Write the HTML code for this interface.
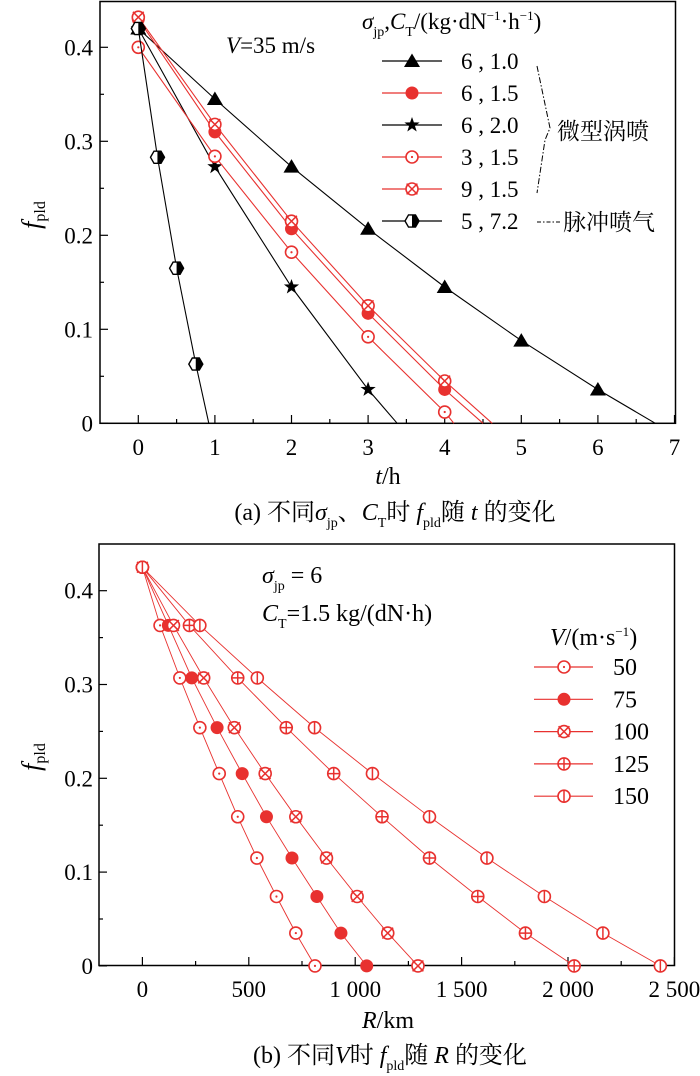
<!DOCTYPE html>
<html><head><meta charset="utf-8"><style>
html,body{margin:0;padding:0;background:#fff;}
svg{display:block;font-family:"Liberation Serif","Noto Serif CJK SC","Noto Sans CJK SC",serif;}
</style></head><body>
<svg id="s" width="700" height="1076" viewBox="0 0 700 1076" xmlns="http://www.w3.org/2000/svg"></svg>
<script>
// ---- chart (a) data ----
const aTicksX=[0,1,2,3,4,5,6,7];
const aTicksY=[0,0.1,0.2,0.3,0.4];
const aLabels=["6 , 1.0","6 , 1.5","6 , 2.0","3 , 1.5","9 , 1.5","5 , 7.2"];
const aT1=[0,1,2,3,4,5,6];       const aF1=[0.42,0.345,0.273,0.207,0.145,0.088,0.036]; const aEnd1=6.75;
const aT2=[0,1,2,3,4];           const aF2=[0.43,0.31,0.207,0.117,0.036]; const aEnd2=4.5;
const aT3=[0,1,2,3];             const aF3=[0.42,0.273,0.145,0.036]; const aEnd3=3.38;
const aT4=[0,1,2,3,4];           const aF4=[0.40,0.284,0.182,0.092,0.012]; const aEnd4=4.12;
const aT5=[0,1,2,3,4];           const aF5=[0.432,0.318,0.215,0.125,0.045]; const aEnd5=4.62;
const aT6=[0,0.25,0.5,0.75];     const aF6=[0.42,0.283,0.165,0.063]; const aEnd6=0.92;
// ---- chart (b) data ----
const bTicksX=[0,500,1000,1500,2000,2500];
const bTickLabelsX=["0","500","1 000","1 500","2 000","2 500"];
const bTicksY=[0,0.1,0.2,0.3,0.4];
const bF=[0.425,0.363,0.307,0.254,0.205,0.159,0.115,0.074,0.035,0];
const bR50=[0,83,176,270,361,448,538,630,721,811];
const bR75=[0,122,232,351,469,583,703,820,933,1054];
const bR100=[0,146,288,432,577,721,865,1009,1153,1295];
const bR125=[0,221,448,676,899,1126,1349,1576,1800,2029];
const bR150=[0,270,540,809,1081,1349,1619,1889,2164,2434];
const bLabels=["50","75","100","125","150"];

const NS="http://www.w3.org/2000/svg";
const S=document.getElementById('s');
function el(tag,attrs,parent){const e=document.createElementNS(NS,tag);for(const k in attrs)e.setAttribute(k,attrs[k]);(parent||S).appendChild(e);return e;}
const RED="#e8312f";
const FS=23;

const axA={x:v=>138.3+v*76.6, y:v=>423.3-v*940};
const axB={x:v=>142.4+v*0.21280, y:v=>965.9-v*938};

function marker(g,type,x,y,col){
  const r=6;
  if(type==='tri'){el('polygon',{points:`${x},${y-7.5} ${x-8},${y+6} ${x+8},${y+6}`,fill:'#000'},g);}
  else if(type==='fill'){el('circle',{cx:x,cy:y,r:r+0.5,fill:col},g);}
  else if(type==='star'){let p=[];for(let i=0;i<10;i++){const a=-Math.PI/2+i*Math.PI/5;const rr=i%2?3.2:8;p.push((x+rr*Math.cos(a)).toFixed(1)+','+(y+rr*Math.sin(a)).toFixed(1));}el('polygon',{points:p.join(' '),fill:'#000'},g);}
  else if(type==='dot'){el('circle',{cx:x,cy:y,r:r,fill:'#fff',stroke:col,'stroke-width':1.6},g);el('circle',{cx:x,cy:y,r:1.1,fill:col},g);}
  else if(type==='x'){el('circle',{cx:x,cy:y,r:r,fill:'#fff',stroke:col,'stroke-width':1.6},g);const d=r*0.9;el('path',{d:`M${x-d} ${y-d}L${x+d} ${y+d}M${x-d} ${y+d}L${x+d} ${y-d}`,stroke:col,'stroke-width':1.5},g);}
  else if(type==='plus'){el('circle',{cx:x,cy:y,r:r,fill:'#fff',stroke:col,'stroke-width':1.6},g);el('path',{d:`M${x-r} ${y}L${x+r} ${y}M${x} ${y-r}L${x} ${y+r}`,stroke:col,'stroke-width':1.5},g);}
  else if(type==='vbar'){el('circle',{cx:x,cy:y,r:r,fill:'#fff',stroke:col,'stroke-width':1.6},g);el('path',{d:`M${x} ${y-r}L${x} ${y+r}`,stroke:col,'stroke-width':1.5},g);}
  else if(type==='hex'){let p=[];for(let i=0;i<6;i++){const a=i*Math.PI/3;p.push((x+7*Math.cos(a)).toFixed(1)+','+(y+7*Math.sin(a)).toFixed(1));}
    el('polygon',{points:p.join(' '),fill:'#fff',stroke:'#000','stroke-width':1.4},g);
    el('path',{d:`M${x} ${y-6}L${x+3.5} ${y-6}L${x+7} ${y}L${x+3.5} ${y+6}L${x} ${y+6}Z`,fill:'#000'},g);}
}

// ---------- Chart A ----------
const gA=el('g',{});


el('rect',{x:100,y:1.5,width:575.5,height:421.8,fill:'none',stroke:'#000','stroke-width':1.5},gA);
aTicksX.forEach(v=>{const x=axA.x(v);el('line',{x1:x,y1:423.3,x2:x,y2:415,stroke:'#000','stroke-width':1.2},gA);
  if(v<7){const xm=axA.x(v+0.5);el('line',{x1:xm,y1:423.3,x2:xm,y2:419,stroke:'#000','stroke-width':1.2},gA);}
  const t=el('text',{x:x,y:455,'font-size':FS,'text-anchor':'middle'},gA);t.textContent=v;
  });
aTicksY.forEach(v=>{const y=axA.y(v);el('line',{x1:100,y1:y,x2:108,y2:y,stroke:'#000','stroke-width':1.2},gA);
  const ym=axA.y(v+0.05);if(ym>2)el('line',{x1:100,y1:ym,x2:104,y2:ym,stroke:'#000','stroke-width':1.2},gA);
  const t=el('text',{x:93,y:y+8,'font-size':FS,'text-anchor':'end'},gA);t.textContent=v===0?'0':v.toFixed(1);
  });
const seriesA=[[aT1,aF1,aEnd1,'tri','#000'],[aT2,aF2,aEnd2,'fill',RED],[aT3,aF3,aEnd3,'star','#000'],[aT4,aF4,aEnd4,'dot',RED],[aT5,aF5,aEnd5,'x',RED],[aT6,aF6,aEnd6,'hex','#000']];
seriesA.forEach((s,i)=>{const [T,F,E,m,c]=s;const g=el('g',{},gA);
  
  
  const pts=T.map((t,j)=>axA.x(t).toFixed(1)+','+axA.y(F[j]).toFixed(1));pts.push(axA.x(E).toFixed(1)+','+axA.y(0).toFixed(1));
  el('polyline',{points:pts.join(' '),fill:'none',stroke:c,'stroke-width':1.1},g);
  T.forEach((t,j)=>marker(g,m,axA.x(t),axA.y(F[j]),c));});
const lgA=el('g',{},gA);


el('text',{x:362,y:29,'font-size':FS},lgA).innerHTML='<tspan font-style="italic">σ</tspan><tspan font-size="14" dy="7">jp</tspan><tspan dy="-7">,</tspan><tspan font-style="italic">C</tspan><tspan font-size="14" dy="7">T</tspan><tspan dy="-7">/(kg·dN</tspan><tspan font-size="13" dy="-9">−1</tspan><tspan dy="9">·h</tspan><tspan font-size="13" dy="-9">−1</tspan><tspan dy="9">)</tspan>';
seriesA.forEach((s,i)=>{const y=61+i*32;const g=el('g',{},lgA);
  
  
  el('line',{x1:382,y1:y,x2:442,y2:y,stroke:s[4],'stroke-width':1.2},g);marker(g,s[3],412,y,s[4]);
  el('text',{x:461,y:y+8,'font-size':FS},g).textContent=aLabels[i];});
el('path',{d:'M537 66 L550 128 L545 140 L537 193',fill:'none',stroke:'#000','stroke-width':1,'stroke-dasharray':'6 2 1.5 2'},lgA);
el('text',{x:557,y:139,'font-size':FS},lgA).textContent='微型涡喷';
el('line',{x1:537,y1:222,x2:560,y2:222,stroke:'#000','stroke-width':1,'stroke-dasharray':'4 2 1.5 2'},lgA);
el('text',{x:563,y:230,'font-size':FS},lgA).textContent='脉冲喷气';
el('text',{x:226,y:53,'font-size':FS},gA).innerHTML='<tspan font-style="italic">V</tspan>=35 m/s';
const ya=el('text',{transform:'translate(40,215) rotate(-90)','font-size':26,'text-anchor':'middle'},gA);
ya.innerHTML='<tspan font-style="italic">f</tspan><tspan font-size="16" dy="5">pld</tspan>';

const xa=el('text',{x:388,y:484,'font-size':FS+1,'text-anchor':'middle'},gA);xa.innerHTML='<tspan font-style="italic">t</tspan>/h';

const ca=el('text',{x:395,y:520,'font-size':FS+1,'text-anchor':'middle'},gA);
ca.innerHTML='(a) 不同<tspan font-style="italic">σ</tspan><tspan font-size="14" dy="7">jp</tspan><tspan dy="-7">、</tspan><tspan font-style="italic">C</tspan><tspan font-size="14" dy="7">T</tspan><tspan dy="-7">时 </tspan><tspan font-style="italic">f</tspan><tspan font-size="14" dy="7">pld</tspan><tspan dy="-7">随 </tspan><tspan font-style="italic">t</tspan> 的变化';


// ---------- Chart B ----------
const gB=el('g',{});


el('rect',{x:99,y:544,width:575.5,height:421.5,fill:'none',stroke:'#000','stroke-width':1.5},gB);
bTicksX.forEach((v,i)=>{const x=axB.x(v);el('line',{x1:x,y1:965.9,x2:x,y2:957,stroke:'#000','stroke-width':1.2},gB);
  if(v<2500){const xm=axB.x(v+250);el('line',{x1:xm,y1:965.9,x2:xm,y2:961,stroke:'#000','stroke-width':1.2},gB);}
  const t=el('text',{x:x,y:997,'font-size':FS,'text-anchor':'middle'},gB);t.textContent=bTickLabelsX[i];
  });
bTicksY.forEach(v=>{const y=axB.y(v);el('line',{x1:99,y1:y,x2:107,y2:y,stroke:'#000','stroke-width':1.2},gB);
  const ym=axB.y(v+0.05);if(ym>545)el('line',{x1:99,y1:ym,x2:103,y2:ym,stroke:'#000','stroke-width':1.2},gB);
  const t=el('text',{x:93,y:y+8,'font-size':FS,'text-anchor':'end'},gB);t.textContent=v===0?'0':v.toFixed(1);
  });
const seriesB=[[bR50,'dot'],[bR75,'fill'],[bR100,'x'],[bR125,'plus'],[bR150,'vbar']];
seriesB.forEach((s,i)=>{const [R,m]=s;const g=el('g',{},gB);
  
  
  el('polyline',{points:R.map((r,j)=>axB.x(r).toFixed(1)+','+axB.y(bF[j]).toFixed(1)).join(' '),fill:'none',stroke:RED,'stroke-width':0.9},g);
  R.forEach((r,j)=>marker(g,m,axB.x(r),axB.y(bF[j]),RED));});
const lgB=el('g',{},gB);


el('text',{x:550,y:645,'font-size':FS+1},lgB).innerHTML='<tspan font-style="italic">V</tspan>/(m·s<tspan font-size="13" dy="-9">−1</tspan><tspan dy="9">)</tspan>';
seriesB.forEach((s,i)=>{const y=667+i*32.3;const g=el('g',{},lgB);
  
  
  el('line',{x1:534,y1:y,x2:593,y2:y,stroke:RED,'stroke-width':1.2},g);marker(g,s[1],564,y,RED);
  el('text',{x:613,y:y+8,'font-size':FS+1},g).textContent=bLabels[i];});
el('text',{x:262,y:583,'font-size':FS+1},gB).innerHTML='<tspan font-style="italic">σ</tspan><tspan font-size="14" dy="7">jp</tspan><tspan dy="-7"> = 6</tspan>';
el('text',{x:262,y:621,'font-size':FS+1},gB).innerHTML='<tspan font-style="italic">C</tspan><tspan font-size="14" dy="7">T</tspan><tspan dy="-7">=1.5 kg/(dN·h)</tspan>';
const yb=el('text',{transform:'translate(40,757) rotate(-90)','font-size':26,'text-anchor':'middle'},gB);
yb.innerHTML='<tspan font-style="italic">f</tspan><tspan font-size="16" dy="5">pld</tspan>';

const xb=el('text',{x:388,y:1028,'font-size':FS+1,'text-anchor':'middle'},gB);xb.innerHTML='<tspan font-style="italic">R</tspan>/km';

const cb=el('text',{x:390,y:1063,'font-size':FS+1,'text-anchor':'middle'},gB);
cb.innerHTML='(b) 不同<tspan font-style="italic">V</tspan>时 <tspan font-style="italic">f</tspan><tspan font-size="14" dy="7">pld</tspan><tspan dy="-7">随 </tspan><tspan font-style="italic">R</tspan> 的变化';

</script>
</body></html>
